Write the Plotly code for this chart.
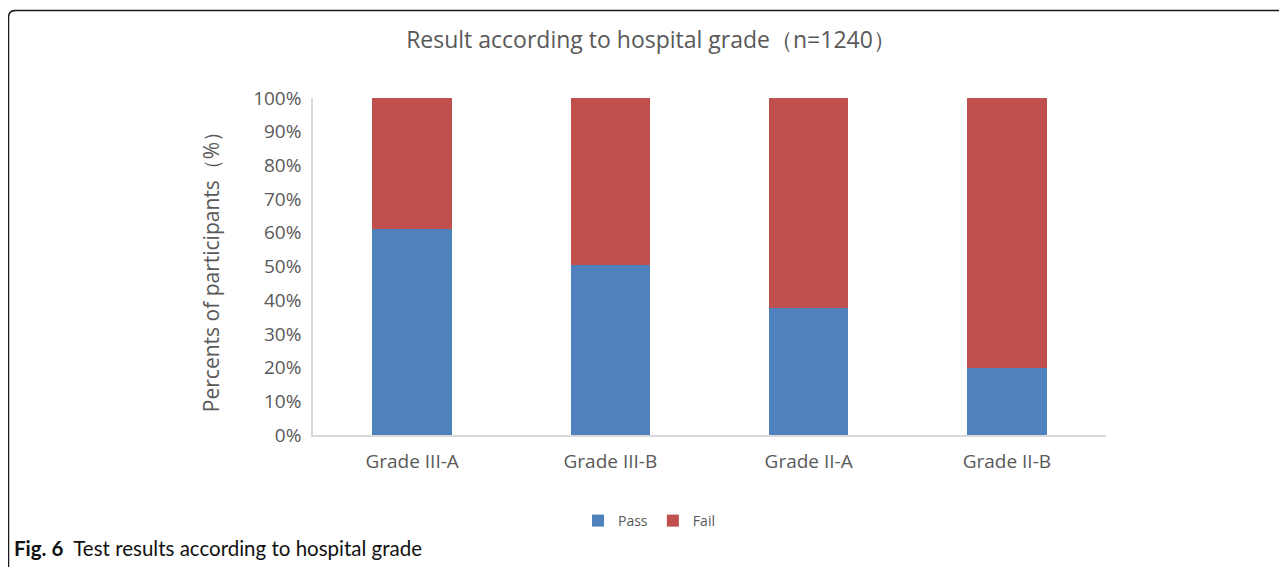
import plotly.graph_objects as go

categories = ["Grade III-A", "Grade III-B", "Grade II-A", "Grade II-B"]
pass_pct = [0.612, 0.503, 0.378, 0.198]
fail_pct = [0.388, 0.497, 0.622, 0.802]
y_ticks = [i / 10 for i in range(11)]

W, H = 1287, 567
OFF = 8  # page body margin offset
# plot area in page pixels
L, R, T, B = 313, 1106, 98, 435

def px_x(px):
    return (px - L) / (R - L)

def px_y(py):
    return (B - py) / (B - T)

GRAY = "#595959"
FONT = "Open Sans"

fig = go.Figure()
fig.add_trace(go.Bar(x=categories, y=pass_pct, name="Pass", marker_color="#4F81BD",
                     marker_line_width=0))
fig.add_trace(go.Bar(x=categories, y=fail_pct, name="Fail", marker_color="#C0504D",
                     marker_line_width=0))

# border frame (rounded top-left corner), page coords
r = 7
x0, y0 = 8.5, 10.5
path = (f"M {px_x(W + 20)} {px_y(y0)} L {px_x(x0 + r)} {px_y(y0)} "
        f"Q {px_x(x0)} {px_y(y0)} {px_x(x0)} {px_y(y0 + r)} "
        f"L {px_x(x0)} {px_y(H + 20)}")
shapes = [dict(type="path", xref="paper", yref="paper", path=path,
               line=dict(color="#1a1a1a", width=1.5))]

annotations = [dict(
    xref="paper", yref="paper", x=px_x(12), y=px_y(548), xanchor="left", yanchor="middle",
    text="<b>Fig. 6</b>  Test results according to hospital grade", showarrow=False,
    font=dict(family="Lato", size=20.5, color="#111111"),
)]

fig.update_layout(
    width=W, height=H,
    margin=dict(l=L - OFF, r=W - R + OFF, t=T - OFF, b=H - B + OFF),
    barmode="stack", bargap=0.6,
    plot_bgcolor="white", paper_bgcolor="white",
    font=dict(family=FONT, color=GRAY),
    title=dict(text="Result according to hospital grade（n=1240）",
               x=(651 - OFF) / W, xanchor="center", y=1 - (40 - OFF) / H, yanchor="middle",
               xref="container", yref="container",
               font=dict(family=FONT, size=23, color=GRAY)),
    xaxis=dict(showline=True, linecolor="#d9d9d9", linewidth=1.5, showgrid=False,
               ticks="", tickfont=dict(size=19, color=GRAY), ticklabelstandoff=8),
    yaxis=dict(range=[0, 1], tickvals=y_ticks, tickformat=".0%", showline=True,
               linecolor="#d9d9d9", linewidth=1.5, showgrid=False, zeroline=False,
               ticks="", tickfont=dict(size=19, color=GRAY), ticklabelstandoff=6,
               title=dict(text="Percents of participants（%）", standoff=28,
                          font=dict(size=21, color=GRAY))),
    legend=dict(orientation="h", x=px_x(649), xanchor="center", y=px_y(521), yanchor="middle",
                font=dict(size=14, color=GRAY), itemwidth=30, traceorder="normal"),
    shapes=shapes, annotations=annotations,
)

fig.write_html("out.html")
